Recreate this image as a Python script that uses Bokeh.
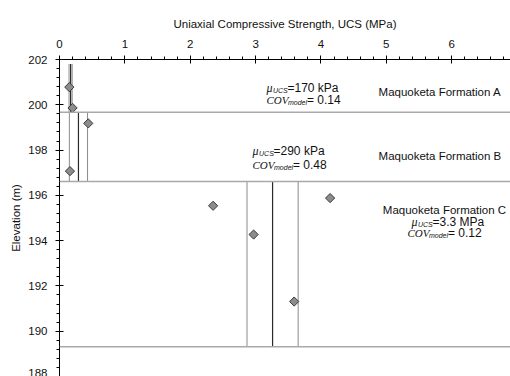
from bokeh.plotting import figure
from bokeh.models import Label, Span, SingleIntervalTicker, Range1d
from bokeh.embed import file_html
from bokeh.resources import INLINE

# ---------------- data ----------------
ucs = [0.15, 0.20, 0.44, 0.16, 2.35, 2.97, 3.59, 4.14]          # MPa
elev = [200.78, 199.86, 199.18, 197.07, 195.54, 194.27, 191.31, 195.88]  # m

formations = ["Maquoketa Formation A", "Maquoketa Formation B", "Maquoketa Formation C"]
form_top = [201.8, 199.67, 196.61]
form_bottom = [199.67, 196.61, 189.31]
mu_ucs = [0.17, 0.29, 3.26]      # MPa
cov_model = [0.14, 0.48, 0.12]
mu_labels = ["=170 kPa", "=290 kPa", "=3.3 MPa"]
cov_labels = ["= 0.14", "= 0.48", "= 0.12"]

x_range = (0, 6.9)
y_range = (188, 202)
x_title = "Uniaxial Compressive Strength, UCS (MPa)"
y_title = "Elevation (m)"

# ---------------- layout of annotations ----------------
name_x = [5.82, 5.82, 5.89]
name_y = [200.56, 197.72, 195.36]
stat1_x = [3.167, 2.953, 5.385]
stat2_x = [3.167, 2.953, 5.324]
stat1_y = [200.75, 197.94, 194.84]
stat2_y = [200.21, 197.35, 194.35]

SANS = "Liberation Sans"
SERIF = "Liberation Serif"

p = figure(width=510, height=376,
           x_range=Range1d(*x_range), y_range=Range1d(*y_range),
           x_axis_location="above",
           output_backend="svg", toolbar_location=None,
           min_border_left=59, min_border_top=59,
           min_border_right=0, min_border_bottom=0)
p.outline_line_color = None
p.xgrid.visible = False
p.ygrid.visible = False
p.background_fill_color = "white"
p.border_fill_color = "white"

p.xaxis.ticker = SingleIntervalTicker(interval=1, num_minor_ticks=5)
p.yaxis.ticker = SingleIntervalTicker(interval=2, num_minor_ticks=5)
for ax in (p.xaxis, p.yaxis):
    ax.axis_line_color = "black"
    ax.major_tick_line_color = "black"
    ax.minor_tick_line_color = "black"
    ax.major_tick_in = 4
    ax.major_tick_out = 4
    ax.minor_tick_in = 0
    ax.minor_tick_out = 3
    ax.major_label_standoff = 8
    ax.major_label_text_font = SANS
    ax.major_label_text_font_size = "11.5px"
    ax.major_label_text_color = "#111111"
    ax.axis_label_text_font = SANS
    ax.axis_label_text_font_size = "11.5px"
    ax.axis_label_text_font_style = "normal"
    ax.axis_label_text_color = "#111111"

p.xaxis.axis_label = x_title
p.xaxis.axis_label_standoff = 7
p.yaxis.axis_label = y_title
p.yaxis.axis_label_standoff = 3

# formation boundaries
for b in form_bottom:
    p.add_layout(Span(location=b, dimension="width", line_color="#a9a9a9", line_width=1.5))

# mean and mean +/- COV*mean lines per formation
lo = [m * (1 - c) for m, c in zip(mu_ucs, cov_model)]
hi = [m * (1 + c) for m, c in zip(mu_ucs, cov_model)]
p.segment(x0=lo, y0=form_bottom, x1=lo, y1=form_top, line_color="#8a8a8a", line_width=1)
p.segment(x0=hi, y0=form_bottom, x1=hi, y1=form_top, line_color="#8a8a8a", line_width=1)
p.segment(x0=mu_ucs, y0=form_bottom, x1=mu_ucs, y1=form_top, line_color="#2a2a2a", line_width=1.2)

# data points
p.scatter(ucs, elev, marker="square", angle=0.7853981634, size=6.5,
          fill_color="#8c8c8c", line_color="#3a3a3a", line_width=1)


def piece(x, y, text, dx=0, dy=0, font=SANS, size="12px", style="normal"):
    p.add_layout(Label(x=x, y=y, x_offset=dx, y_offset=dy,
                       text=text, text_font=font, text_font_size=size,
                       text_font_style=style, text_color="#111111",
                       text_baseline="alphabetic", text_align="left"))


for i in range(3):
    p.add_layout(Label(x=name_x[i], y=name_y[i], text=formations[i], text_font=SANS,
                       text_font_size="11.5px", text_color="#111111",
                       text_baseline="alphabetic", text_align="center"))
    # line 1: mu_UCS = ...
    piece(stat1_x[i], stat1_y[i], "\u03bc", 0, 0, SERIF, "12px", "italic")
    piece(stat1_x[i], stat1_y[i], "UCS", 6.5, -2.5, SANS, "7px", "italic")
    piece(stat1_x[i], stat1_y[i], mu_labels[i], 21, 0, SANS, "12px", "normal")
    # line 2: COV_model = ...
    piece(stat2_x[i], stat2_y[i], "COV", 0, 0, SERIF, "11px", "italic")
    piece(stat2_x[i], stat2_y[i], "model", 21.5, -2.5, SANS, "7px", "italic")
    piece(stat2_x[i], stat2_y[i], cov_labels[i], 40.5, 0, SANS, "12px", "normal")

open("out.html", "w").write(file_html(p, INLINE))
